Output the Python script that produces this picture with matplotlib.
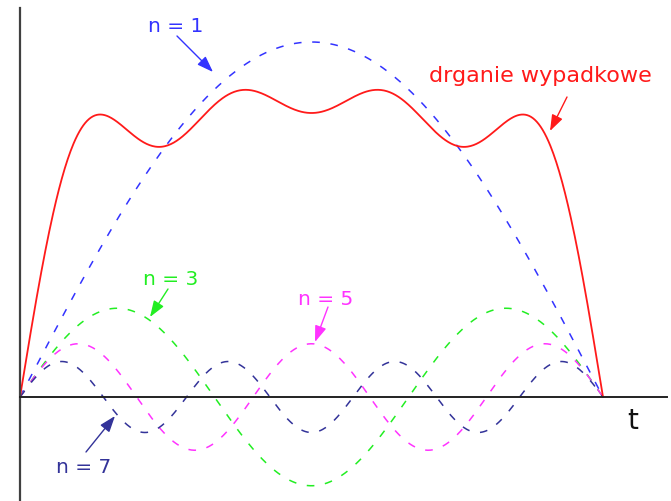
import numpy as np
import matplotlib.pyplot as plt

# harmonics of the square-wave series and the amplitudes
harmonics = [1, 3, 5, 7]
amplitudes = [1.0, 0.25, 0.15, 0.10]
colors = ['#3333ff', '#22ee22', '#ff33ff', '#333399']
labels = ['n = 1', 'n = 3', 'n = 5', 'n = 7']
sum_label = 'drganie wypadkowe'

# label centre, arrow tail, arrow head (image pixels, y down)
label_pos = [(176, 27), (171, 280), (326, 300), (84, 468)]
arrow_tail = [(177, 37), (168, 290), (328, 308), (86, 453)]
arrow_head = [(213, 73), (150, 318), (315, 343), (115, 417)]

W, H = 671, 502
fig = plt.figure(figsize=(W / 100, H / 100), dpi=100)
ax = fig.add_axes([0, 0, 1, 1])
ax.set_axis_off()

# x: 0 -> px 20, pi -> px 603 ; y: 0 -> px 398, 1 -> px 43
sx = 583 / np.pi
sy = 355.0
ax.set_xlim(-20 / sx, (W - 20) / sx)
ax.set_ylim(-(H - 398) / sy, 398 / sy)

t = np.linspace(0, np.pi, 600)
total = np.zeros_like(t)
for n, a, c in zip(harmonics, amplitudes, colors):
    y = a * np.sin(n * t)
    total += y
    ax.plot(t, y, color=c, lw=1.1, dashes=(5, 7))
ax.plot(t, total, color='#ff1a1a', lw=1.3)

# axes lines
ax.plot([0, 0], [-(H - 398) / sy, (398 - 9) / sy], color='#404040', lw=1.6)
ax.plot([0, (667 - 20) / sx], [0, 0], color='#222222', lw=1.4)

head = '-|>,head_width=0.25,head_length=0.7'


def fp(p):
    return (p[0], H - p[1])


for lab, c, lp, tl, hd in zip(labels, colors, label_pos, arrow_tail, arrow_head):
    ax.text(*fp(lp), lab, transform=None, color=c, fontsize=14.5,
            ha='center', va='center')
    ax.annotate('', xy=fp(hd), xytext=fp(tl), xycoords='figure pixels',
                textcoords='figure pixels',
                arrowprops=dict(arrowstyle=head, color=c, lw=1.0,
                                mutation_scale=14, shrinkA=0, shrinkB=0))

ax.text(*fp((540, 76)), sum_label, transform=None, color='#ff1a1a',
        fontsize=16, ha='center', va='center')
ax.annotate('', xy=fp((550, 132)), xytext=fp((567, 98)),
            xycoords='figure pixels', textcoords='figure pixels',
            arrowprops=dict(arrowstyle=head, color='#ff1a1a', lw=1.0,
                            mutation_scale=14, shrinkA=0, shrinkB=0))

ax.text(*fp((633, 421)), 't', transform=None, color='#111111',
        fontsize=20, ha='center', va='center')

fig.savefig('out.png', dpi=100)
